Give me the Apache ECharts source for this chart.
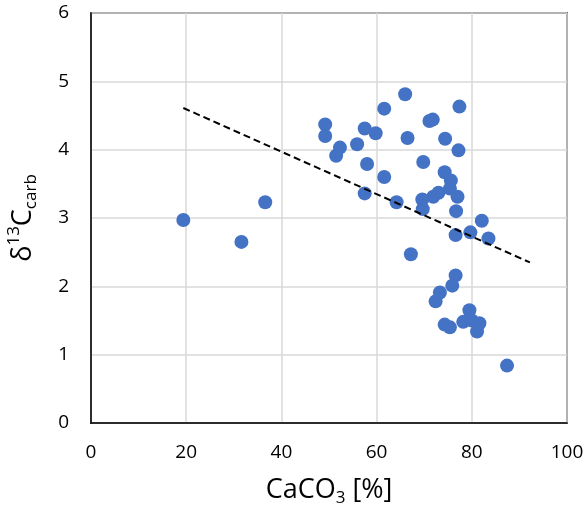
<!DOCTYPE html>
<html><head><meta charset="utf-8">
<script src="https://cdn.jsdelivr.net/npm/echarts@6/dist/echarts.min.js"></script>
<style>html,body{margin:0;padding:0;background:#fff}#c{width:587px;height:510px}</style>
</head><body><div id="c"></div>
<script>
const caco3 = [19.4,31.6,36.6,49.2,49.2,52.3,51.5,55.9,57.5,59.8,58.0,61.6,61.6,57.5,64.2,66.0,66.5,69.8,71.1,71.8,74.4,77.4,77.2,74.3,75.6,73.0,71.9,75.4,77.0,69.6,69.7,76.7,82.1,76.6,79.7,83.5,67.2,76.6,75.9,73.3,72.4,79.5,74.3,75.4,78.2,81.6,81.1,80.0,87.4];
const d13c  = [2.97,2.65,3.23,4.37,4.20,4.03,3.91,4.08,4.31,4.24,3.79,4.60,3.60,3.36,3.23,4.81,4.17,3.82,4.42,4.44,4.16,4.63,3.99,3.67,3.55,3.37,3.31,3.43,3.31,3.27,3.13,3.10,2.96,2.75,2.79,2.70,2.47,2.16,2.01,1.91,1.78,1.65,1.44,1.40,1.48,1.46,1.34,1.50,0.84];
const trendX = [19.4, 92.2];
const trendY = [4.61, 2.35];
const xTicks = [0,20,40,60,80,100];
const yTicks = [0,1,2,3,4,5,6];

const font = 'Open Sans';
const chart = echarts.init(document.getElementById('c'));
chart.setOption({
  animation:false,
  grid:{left:91,top:13,right:20,bottom:87,outerBoundsMode:'none',containLabel:false,show:true,borderColor:'#000',borderWidth:1.5,backgroundColor:'transparent'},
  xAxis:{type:'value',min:0,max:100,interval:20,
    axisLine:{show:true,lineStyle:{color:'#000',width:1.5}},axisTick:{show:false},
    splitLine:{show:true,lineStyle:{color:'#d9d9d9',width:1.5}},
    axisLabel:{fontSize:19,color:'#000',fontFamily:font,margin:20},
    name:'{a|CaCO}{sub|3}{a| [%]}',nameLocation:'middle',nameGap:50,
    nameTextStyle:{rich:{a:{fontSize:27,fontFamily:font,color:'#000',lineHeight:34},sub:{fontSize:17,fontFamily:font,color:'#000',verticalAlign:'bottom',lineHeight:26}}}
  },
  yAxis:{type:'value',min:0,max:6,interval:1,
    axisLine:{show:true,lineStyle:{color:'#000',width:1.5}},axisTick:{show:false},
    splitLine:{show:true,lineStyle:{color:'#d9d9d9',width:1.5}},
    axisLabel:{fontSize:19,color:'#000',fontFamily:font,margin:22},
    name:'{a|δ}{sup|13}{a|C}{sub|carb}',nameLocation:'middle',nameGap:51,nameRotate:90,
    nameTextStyle:{rich:{a:{fontSize:27,fontFamily:font,color:'#000',lineHeight:34},sup:{fontSize:17,fontFamily:font,color:'#000',verticalAlign:'top',lineHeight:26},sub:{fontSize:17,fontFamily:font,color:'#000',verticalAlign:'bottom',lineHeight:26}}}
  },
  series:[
    {type:'line',data:trendX.map((x,i)=>[x,trendY[i]]),symbol:'none',lineStyle:{color:'#000',width:2,type:[7,4]},z:3},
    {type:'scatter',data:caco3.map((x,i)=>[x,d13c[i]]),symbolSize:14,itemStyle:{color:'#4472C4',opacity:1},z:2}
  ]
});
</script></body></html>
